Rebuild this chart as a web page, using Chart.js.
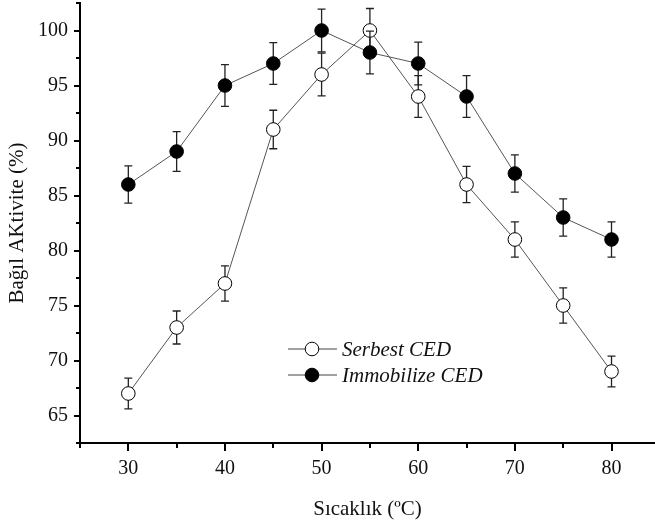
<!DOCTYPE html>
<html>
<head>
<meta charset="utf-8">
<script src="https://cdn.jsdelivr.net/npm/chart.js@4/dist/chart.umd.min.js"></script>
<style>
html,body{margin:0;padding:0;background:#fff;}
#wrap{width:655px;height:522px;position:relative;}
</style>
</head>
<body>
<div id="wrap"><canvas id="c"></canvas></div>
<script>
// ---- data ----
const temperatures = [30, 35, 40, 45, 50, 55, 60, 65, 70, 75, 80];
const serbestValues = [67, 73, 77, 91, 96, 100, 94, 86, 81, 75, 69];
const serbestErrors = [1.4, 1.5, 1.6, 1.75, 1.95, 2.0, 1.9, 1.65, 1.6, 1.6, 1.4];
const immobilizeValues = [86, 89, 95, 97, 100, 98, 97, 94, 87, 83, 81];
const immobilizeErrors = [1.7, 1.8, 1.9, 1.9, 1.95, 1.95, 1.95, 1.9, 1.7, 1.7, 1.6];
const xTickValues = [25, 30, 35, 40, 45, 50, 55, 60, 65, 70, 75, 80];
const xLabelValues = [30, 40, 50, 60, 70, 80];
const yTickValues = [62.5, 65, 67.5, 70, 72.5, 75, 77.5, 80, 82.5, 85, 87.5, 90, 92.5, 95, 97.5, 100, 102.5];
const yLabelValues = [65, 70, 75, 80, 85, 90, 95, 100];
const seriesNames = ['Serbest CED', 'Immobilize CED'];
const xTitle = 'Sıcaklık (ºC)';
const yTitle = 'Bağıl AKtivite (%)';

const FONT = "'Liberation Serif', 'Times New Roman', serif";

function toPoints(xs, ys) { return xs.map((x, i) => ({x: x, y: ys[i]})); }
function zeroPad(scale) { scale.paddingTop = 0; scale.paddingBottom = 0; scale.paddingLeft = 0; scale.paddingRight = 0; }

const errorBarPlugin = {
  id: 'errorBars',
  beforeDatasetDraw(chart, args) {
    const ds = chart.data.datasets[args.index];
    if (!ds.errors) return;
    const ctx = chart.ctx, xs = chart.scales.x, ys = chart.scales.y;
    ctx.save();
    ctx.strokeStyle = '#222';
    ctx.lineWidth = 1.3;
    ds.data.forEach((p, i) => {
      const e = ds.errors[i];
      const px = xs.getPixelForValue(p.x);
      const top = ys.getPixelForValue(p.y + e);
      const bot = ys.getPixelForValue(p.y - e);
      ctx.beginPath();
      ctx.moveTo(px, top); ctx.lineTo(px, bot);
      ctx.moveTo(px - 4, top); ctx.lineTo(px + 4, top);
      ctx.moveTo(px - 4, bot); ctx.lineTo(px + 4, bot);
      ctx.stroke();
    });
    ctx.restore();
  }
};

const tickPlugin = {
  id: 'axisTicks',
  afterDraw(chart) {
    const ctx = chart.ctx, xs = chart.scales.x, ys = chart.scales.y;
    const area = chart.chartArea;
    ctx.save();
    ctx.strokeStyle = '#000';
    ctx.lineWidth = 2;
    ctx.beginPath();
    xTickValues.forEach(v => {
      const px = Math.round(xs.getPixelForValue(v));
      const len = xLabelValues.includes(v) ? 8 : 5;
      ctx.moveTo(px, area.bottom); ctx.lineTo(px, area.bottom + len);
    });
    yTickValues.forEach(v => {
      const py = Math.round(ys.getPixelForValue(v));
      const len = yLabelValues.includes(v) ? 6 : 4;
      ctx.moveTo(area.left, py); ctx.lineTo(area.left - len, py);
    });
    ctx.stroke();
    ctx.restore();
  }
};

const legendPlugin = {
  id: 'insideLegend',
  afterDraw(chart) {
    const ctx = chart.ctx;
    const rows = [
      {y: 349, ds: chart.data.datasets[0]},
      {y: 375, ds: chart.data.datasets[1]}
    ];
    ctx.save();
    rows.forEach(r => {
      ctx.strokeStyle = '#444';
      ctx.lineWidth = 1;
      ctx.beginPath();
      ctx.moveTo(288, r.y); ctx.lineTo(337, r.y);
      ctx.stroke();
      ctx.beginPath();
      ctx.arc(312, r.y, 6.8, 0, Math.PI * 2);
      ctx.fillStyle = r.ds.pointBackgroundColor;
      ctx.fill();
      ctx.strokeStyle = '#000';
      ctx.lineWidth = 1;
      ctx.stroke();
      ctx.fillStyle = '#111';
      ctx.font = "italic 21px " + FONT;
      ctx.textBaseline = 'middle';
      ctx.textAlign = 'left';
      ctx.fillText(r.ds.label, 342, r.y + 1);
    });
    ctx.restore();
  }
};

new Chart(document.getElementById('c'), {
  type: 'line',
  data: {
    datasets: [
      {
        label: seriesNames[0],
        data: toPoints(temperatures, serbestValues),
        errors: serbestErrors,
        borderColor: '#555',
        borderWidth: 1,
        pointRadius: 6.8,
        pointBackgroundColor: '#fff',
        pointBorderColor: '#000',
        pointBorderWidth: 1,
        order: 2
      },
      {
        label: seriesNames[1],
        data: toPoints(temperatures, immobilizeValues),
        errors: immobilizeErrors,
        borderColor: '#555',
        borderWidth: 1,
        pointRadius: 6.8,
        pointBackgroundColor: '#000',
        pointBorderColor: '#000',
        pointBorderWidth: 1,
        order: 1
      }
    ]
  },
  options: {
    responsive: true,
    maintainAspectRatio: false,
    animation: false,
    layout: {autoPadding: false, padding: {top: 3, right: 0, left: 0, bottom: 0}},
    plugins: {legend: {display: false}, tooltip: {enabled: false}},
    scales: {
      x: {
        type: 'linear',
        min: 25,
        max: 84.5,
        afterBuildTicks(scale) { scale.ticks = xLabelValues.map(v => ({value: v})); },
        afterFit(scale) { scale.height = 79; zeroPad(scale); },
        grid: {display: true, drawOnChartArea: false, drawTicks: false},
        border: {display: true, color: '#000', width: 2},
        ticks: {color: '#111', font: {family: FONT, size: 20}, padding: 14, maxRotation: 0, autoSkip: false},
        title: {display: true, text: xTitle, color: '#111', font: {family: FONT, size: 21}, padding: {top: 3, bottom: 0}}
      },
      y: {
        type: 'linear',
        min: 62.5,
        max: 102.5,
        afterBuildTicks(scale) { scale.ticks = yLabelValues.map(v => ({value: v})); },
        afterFit(scale) { scale.width = 80; zeroPad(scale); },
        grid: {display: true, drawOnChartArea: false, drawTicks: false},
        border: {display: true, color: '#000', width: 2},
        ticks: {color: '#111', font: {family: FONT, size: 20}, padding: 12, autoSkip: false},
        title: {display: true, text: yTitle, color: '#111', font: {family: FONT, size: 21}, padding: {top: 5, bottom: 0}}
      }
    }
  },
  plugins: [errorBarPlugin, tickPlugin, legendPlugin]
});
</script>
</body>
</html>
